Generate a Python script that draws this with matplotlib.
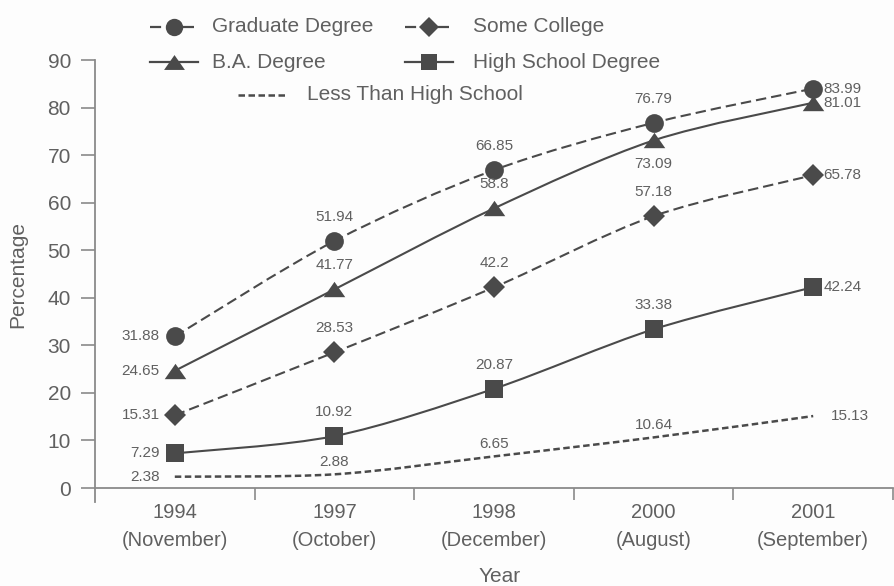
import matplotlib
matplotlib.use("Agg")
import matplotlib.pyplot as plt
from matplotlib.path import Path
from matplotlib.patches import PathPatch
from matplotlib.lines import Line2D
import numpy as np

# ---- data ----
years = ["1994", "1997", "1998", "2000", "2001"]
months = ["November", "October", "December", "August", "September"]
graduate = [31.88, 51.94, 66.85, 76.79, 83.99]
ba_degree = [24.65, 41.77, 58.8, 73.09, 81.01]
some_college = [15.31, 28.53, 42.2, 57.18, 65.78]
high_school = [7.29, 10.92, 20.87, 33.38, 42.24]
less_than_hs = [2.38, 2.88, 6.65, 10.64, 15.13]
y_ticks = [0, 10, 20, 30, 40, 50, 60, 70, 80, 90]

plt.rcParams["font.family"] = ["Liberation Sans", "DejaVu Sans"]

W, H = 894, 586
fig = plt.figure(figsize=(W / 100, H / 100), dpi=100)
fig.patch.set_facecolor("#fdfdfd")

INK = "#4a4a4a"
TXT = "#606060"
AXC = "#8a8a8a"
PX = 72 / 100  # points per pixel


def fx(px):
    return px / W


def fy(py):
    return 1 - py / H


# axes: left edge at x=95px, right at 893px; y=90 at 60px, bottom of the axis line at 502px
ax = fig.add_axes([fx(95), fy(502), fx(893) - fx(95), fy(60) - fy(502)])
ax.set_facecolor("none")
ax.set_xlim(-0.5, 4.5)
ax.set_ylim(-2.94, 90)

for s in ["top", "right"]:
    ax.spines[s].set_visible(False)
ax.spines["bottom"].set_position(("data", 0))
for s in ["left", "bottom"]:
    ax.spines[s].set_color(AXC)
    ax.spines[s].set_linewidth(1.3)

ax.set_yticks(y_ticks)
ax.set_yticklabels([str(v) for v in y_ticks])
ax.tick_params(axis="y", direction="out", length=14 * PX, width=1.2, color=AXC,
               pad=10 * PX, labelsize=15, labelcolor=TXT)

x = np.arange(len(years))
ax.set_xticks(np.arange(len(years)) + 0.5)
ax.set_xticklabels([])
ax.tick_params(axis="x", which="major", direction="out", length=12 * PX, width=1.2, color=AXC)
ax.set_xticks(x, minor=True)
ax.set_xticklabels([f"{y}\n({m})" for y, m in zip(years, months)], minor=True,
                   fontsize=14.5, color=TXT, linespacing=1.6)
ax.tick_params(axis="x", which="minor", length=0, pad=15 * PX)


def smooth_path(xs, ys, k=6.5):
    pts = np.column_stack([xs, ys]).astype(float)
    n = len(pts)
    verts = [pts[0]]
    codes = [Path.MOVETO]
    for i in range(n - 1):
        p0 = pts[max(i - 1, 0)]
        p1 = pts[i]
        p2 = pts[i + 1]
        p3 = pts[min(i + 2, n - 1)]
        verts += [p1 + (p2 - p0) / k, p2 - (p3 - p1) / k, p2]
        codes += [Path.CURVE4] * 3
    return Path(verts, codes)


tri = [(0, 1), (-1.4, -1), (1.4, -1)]
long_dash = (0, (5.0, 2.4))
short_dash = (0, (2.6, 1.4))

series = [
    # values, marker, markersize, linestyle, lw, label positions
    (graduate, "o", 13.5, long_dash, 1.5, ["l", "a", "a", "a", "r"]),
    (ba_degree, tri, 15.5, "-", 1.5, ["l", "a", "a", "b", "r"]),
    (some_college, "D", 11.0, long_dash, 1.5, ["l", "a", "a", "a", "r"]),
    (high_school, "s", 12.5, "-", 1.5, ["l", "a", "a", "a", "r"]),
    (less_than_hs, None, 0, short_dash, 1.8, ["l", "a", "a", "a", "r"]),
]

for vals, mk, ms, ls, lw, pos in series:
    patch = PathPatch(smooth_path(x, vals), fill=False, edgecolor=INK, lw=lw,
                      linestyle=ls, capstyle="butt", zorder=2)
    ax.add_patch(patch)
    if mk is not None:
        ax.plot(x, vals, linestyle="none", marker=mk, ms=ms, color=INK,
                markeredgewidth=0, zorder=3)
    near = mk is None
    for xi, v, p in zip(x, vals, pos):
        txt = f"{v:g}"
        if p == "l":
            off, ha, va = (-15 * PX, 0), "right", "center"
        elif p == "r":
            off, ha, va = ((18 if near else 10) * PX, 0), "left", "center"
        elif p == "a":
            off, ha, va = (0, (12 if near else 24) * PX), "center", "center"
        else:
            off, ha, va = (0, -24 * PX), "center", "center"
        ax.annotate(txt, (xi, v), xytext=off, textcoords="offset points",
                    ha=ha, va=va, fontsize=11, color=TXT, zorder=4)

# axis titles
fig.text(fx(18), fy(275), "Percentage", rotation=90, ha="center", va="center",
         fontsize=15, color=TXT)
fig.text(fx(500), fy(577), "Year", ha="center", va="center", fontsize=15, color=TXT)

# legend drawn in figure pixels
legend_items = [
    ("Graduate Degree", "o", 12.5, long_dash, 150, 198, 212, 27),
    ("Some College", "D", 10.5, long_dash, 405, 453, 473, 27),
    ("B.A. Degree", tri, 15.0, "-", 150, 198, 212, 62),
    ("High School Degree", "s", 12.0, "-", 405, 453, 473, 62),
    ("Less Than High School", None, 0, short_dash, 238, 287, 307, 95),
]
for label, mk, ms, ls, x0, x1, tx, yy in legend_items:
    fig.add_artist(Line2D([fx(x0), fx(x1)], [fy(yy), fy(yy)], transform=fig.transFigure,
                          color=INK, lw=1.6 if mk is not None else 1.8, linestyle=ls,
                          dash_capstyle="butt"))
    if mk is not None:
        fig.add_artist(Line2D([fx((x0 + x1) / 2)], [fy(yy)], transform=fig.transFigure,
                              linestyle="none", marker=mk, ms=ms, color=INK,
                              markeredgewidth=0))
    fig.text(fx(tx), fy(yy), label, ha="left", va="center", fontsize=15, color=TXT)

fig.savefig("out.png", dpi=100, facecolor=fig.get_facecolor())
